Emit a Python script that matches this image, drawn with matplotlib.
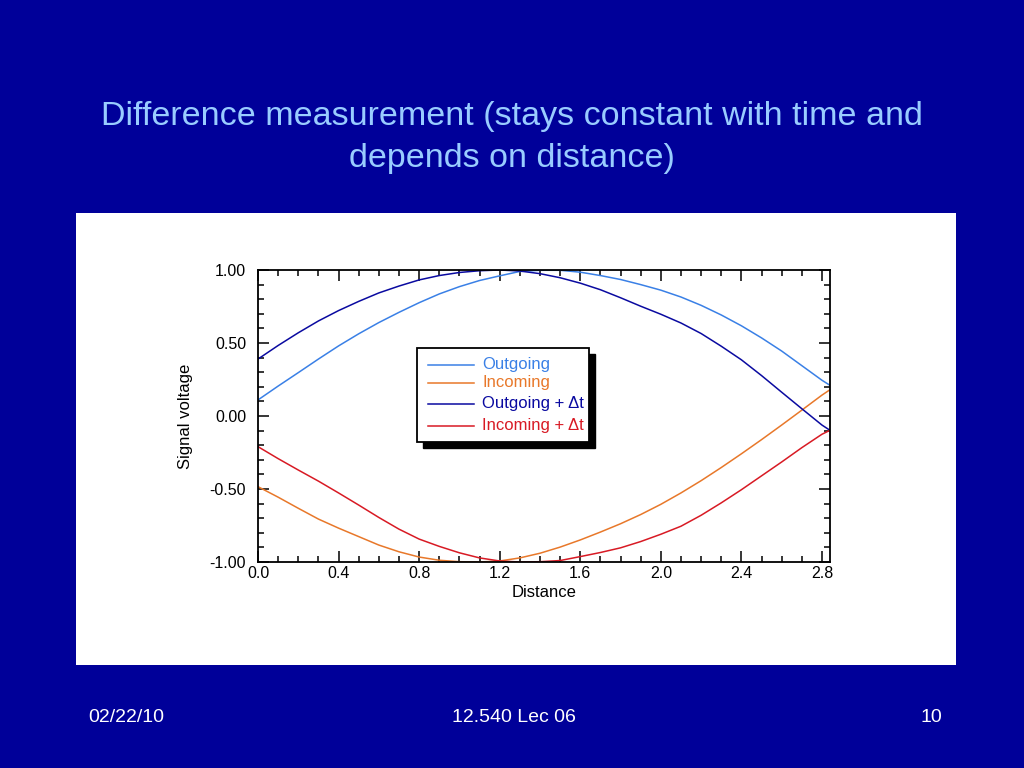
import matplotlib
matplotlib.use("Agg")
import matplotlib.pyplot as plt
from matplotlib.patches import Rectangle
from matplotlib.lines import Line2D
from matplotlib.ticker import MultipleLocator, FuncFormatter

plt.rcParams['font.family'] = ['Liberation Sans', 'DejaVu Sans']
plt.rcParams['axes.unicode_minus'] = False

# ---- data ----
distance = [0.0, 0.1, 0.2, 0.3, 0.4, 0.5, 0.6, 0.7, 0.8, 0.9, 1.0, 1.1, 1.2, 1.3,
            1.4, 1.5, 1.6, 1.7, 1.8, 1.9, 2.0, 2.1, 2.2, 2.3, 2.4, 2.5, 2.6, 2.7,
            2.8, 2.84]
outgoing = [0.11, 0.205, 0.297, 0.390, 0.480, 0.563, 0.640, 0.710, 0.776, 0.836,
            0.886, 0.928, 0.960, 0.990, 0.998, 0.998, 0.985, 0.962, 0.935, 0.900,
            0.862, 0.815, 0.758, 0.692, 0.618, 0.535, 0.445, 0.345, 0.245, 0.21]
incoming = [-0.484, -0.556, -0.632, -0.706, -0.768, -0.826, -0.884, -0.930, -0.966,
            -0.988, -0.998, -1.000, -0.993, -0.972, -0.940, -0.898, -0.849, -0.795,
            -0.738, -0.675, -0.605, -0.527, -0.443, -0.353, -0.259, -0.162, -0.062,
            0.040, 0.143, 0.18]
outgoing_dt = [0.39, 0.483, 0.570, 0.651, 0.722, 0.785, 0.843, 0.890, 0.932, 0.962,
               0.983, 0.995, 1.000, 0.993, 0.975, 0.947, 0.910, 0.865, 0.810, 0.752,
               0.697, 0.637, 0.565, 0.478, 0.385, 0.277, 0.163, 0.050, -0.062, -0.098]
incoming_dt = [-0.21, -0.292, -0.370, -0.446, -0.527, -0.610, -0.695, -0.775, -0.843,
               -0.893, -0.937, -0.972, -0.993, -1.000, -0.998, -0.990, -0.963, -0.935,
               -0.903, -0.860, -0.810, -0.755, -0.680, -0.595, -0.505, -0.410, -0.315,
               -0.217, -0.125, -0.098]

series_labels = ["Outgoing", "Incoming", "Outgoing + \u0394t", "Incoming + \u0394t"]
series_colors = ["#3a80e6", "#e8782a", "#0a0aa0", "#d81a24"]
series_values = [outgoing, incoming, outgoing_dt, incoming_dt]

title = "Difference measurement (stays constant with time and\ndepends on distance)"
footer_left = "02/22/10"
footer_mid = "12.540 Lec 06"
footer_right = "10"

# ---- figure ----
W, H = 1024, 768
fig = plt.figure(figsize=(W / 100, H / 100), dpi=100, facecolor="#000099")

# white panel as a background axes
panel = fig.add_axes([76 / W, 1 - 665 / H, 880 / W, 452 / H], zorder=-5)
panel.set_facecolor("white")
panel.set_xticks([])
panel.set_yticks([])
for s in panel.spines.values():
    s.set_visible(False)

fig.text(0.5, 1 - 137.5 / H, title, ha="center", va="center", color="#99ccff",
         fontsize=24.5, linespacing=1.42)

fig.text(126 / W, 1 - 718 / H, footer_left, ha="center", va="center",
         color="white", fontsize=14)
fig.text(514 / W, 1 - 718 / H, footer_mid, ha="center", va="center",
         color="white", fontsize=14)
fig.text(931 / W, 1 - 718 / H, footer_right, ha="center", va="center",
         color="white", fontsize=14)

ax = fig.add_axes([258 / W, 1 - 562 / H, 572 / W, 292 / H], zorder=1)
ax.set_facecolor("white")

for vals, col in zip(series_values, series_colors):
    ax.plot(distance, vals, color=col, lw=1.1, solid_joinstyle="round")

ax.set_xlim(0, 2.84)
ax.set_ylim(-1.0, 1.0)
ax.xaxis.set_major_locator(MultipleLocator(0.4))
ax.xaxis.set_minor_locator(MultipleLocator(0.1))
ax.yaxis.set_major_locator(MultipleLocator(0.5))
ax.yaxis.set_minor_locator(MultipleLocator(0.1))
ax.xaxis.set_major_formatter(FuncFormatter(lambda v, p: f"{v:.1f}"))
ax.yaxis.set_major_formatter(FuncFormatter(lambda v, p: f"{v:.2f}"))
ax.tick_params(which="both", direction="in", top=True, right=True,
               color="black", width=1.1)
ax.tick_params(which="major", length=8, labelsize=11.5)
ax.tick_params(which="minor", length=4.5)
ax.tick_params(axis="y", which="major", pad=8.5)
ax.tick_params(axis="x", which="major", pad=3)
for s in ax.spines.values():
    s.set_linewidth(1.3)

ax.set_xlabel("Distance", fontsize=12, labelpad=3)
ax.set_ylabel("Signal voltage", fontsize=12, labelpad=12)

# ---- legend box (drawn manually to match spacing) ----
def ax_x(px):
    return (px - 258) / 572.0

def ax_y(py):
    return (562 - py) / 292.0

bx0, bx1, by0, by1 = ax_x(417), ax_x(589), ax_y(442), ax_y(348)
sh = 6
ax.add_patch(Rectangle((ax_x(417 + sh), ax_y(442 + sh)), bx1 - bx0, by1 - by0,
                       transform=ax.transAxes, facecolor="black",
                       edgecolor="black", zorder=5))
ax.add_patch(Rectangle((bx0, by0), bx1 - bx0, by1 - by0,
                       transform=ax.transAxes, facecolor="white",
                       edgecolor="black", lw=1.3, zorder=6))
entry_y = [365, 382.5, 403.5, 425.5]
for lab, col, py in zip(series_labels, series_colors, entry_y):
    ax.add_line(Line2D([ax_x(428), ax_x(474)], [ax_y(py), ax_y(py)],
                       transform=ax.transAxes, color=col, lw=1.1, zorder=7))
    ax.text(ax_x(482), ax_y(py), lab, transform=ax.transAxes, color=col,
            fontsize=12, ha="left", va="center", zorder=7)

fig.savefig("out.png", dpi=100, facecolor=fig.get_facecolor())
